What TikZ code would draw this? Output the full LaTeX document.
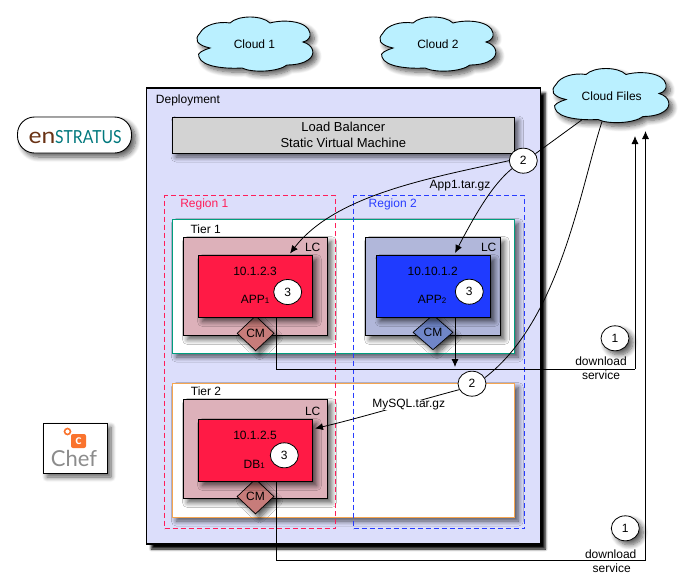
\documentclass[tikz,border=0pt]{standalone}
\usepackage{fontspec}
\setmainfont{Liberation Sans}
\newfontfamily\logofont{Lato}
\usetikzlibrary{arrows.meta,shapes.geometric,shapes.misc,shadows.blur}
\definecolor{depfill}{RGB}{220,222,251}
\definecolor{lbfill}{RGB}{211,211,211}
\definecolor{cloudfill}{RGB}{186,240,255}
\definecolor{redbox}{RGB}{255,26,69}
\definecolor{bluebox}{RGB}{31,59,255}
\definecolor{lcred}{RGB}{221,177,186}
\definecolor{lcblue}{RGB}{177,183,218}
\definecolor{cmred}{RGB}{199,124,122}
\definecolor{cmblue}{RGB}{112,134,200}
\definecolor{tiergreen}{RGB}{0,158,126}
\definecolor{tierorange}{RGB}{245,165,80}
\definecolor{regred}{RGB}{255,30,90}
\definecolor{regblue}{RGB}{40,60,255}
\definecolor{enbrown}{RGB}{105,50,20}
\definecolor{enteal}{RGB}{0,120,125}
\definecolor{cheforange}{RGB}{250,115,45}
\definecolor{chefgrey}{RGB}{140,140,140}
\tikzset{
  txt/.style={font=\fontsize{12}{14}\selectfont,inner sep=0pt,text=black},
  softshadow/.style={blur shadow={shadow xshift=4pt,shadow yshift=-4pt,shadow blur radius=5pt,shadow blur steps=8,shadow opacity=65}},
  hardshadow/.style={blur shadow={shadow xshift=5pt,shadow yshift=-5pt,shadow blur radius=2.5pt,shadow blur steps=6,shadow opacity=100}},
  boxn/.style={rectangle,draw=black,line width=1pt,inner sep=0pt,softshadow},
  tierbox/.style={rectangle,fill=white,line width=1pt,inner sep=0pt,softshadow},
  regionbox/.style={rectangle,dash pattern=on 5pt off 3pt,line width=.8pt,inner sep=0pt},
  numc/.style={ellipse,draw=black,fill=white,line width=.8pt,minimum width=28pt,minimum height=25pt,inner sep=0pt,font=\fontsize{12}{14}\selectfont},
  cmd/.style={diamond,draw=black,line width=.7pt,inner sep=0pt,aspect=1,minimum width=37pt,minimum height=35pt,softshadow,font=\fontsize{12}{14}\selectfont,text=black},
  conn/.style={draw=black,line width=.8pt},
  arrowconn/.style={conn,-{Latex[length=8pt,width=7pt]}},
  cloudshape/.pic={
    \path[draw=black,line width=.9pt,fill=cloudfill,softshadow]
      (-56,-12) .. controls (-52,-20) and (-38,-24) .. (-26,-22)
      .. controls (-18,-30) and (6,-30) .. (14,-22)
      .. controls (28,-26) and (52,-24) .. (54,-12)
      .. controls (55,-8) and (52,-4) .. (47,-3)
      .. controls (58,0) and (60,10) .. (52,15)
      .. controls (48,18) and (40,20) .. (31,20)
      .. controls (22,27) and (-4,28) .. (-14,23)
      .. controls (-30,24) and (-54,22) .. (-57,12)
      .. controls (-60,8) and (-52,5) .. (-46,3)
      .. controls (-60,0) and (-62,-6) .. (-56,-12) -- cycle;
  }
}
\newcommand{\smallidx}[1]{{\fontsize{8}{8}\selectfont #1}}
\begin{document}
\begin{tikzpicture}[x=1pt,y=-1pt]
\useasboundingbox (0,0) rectangle (698,584);
% clouds
\pic at (256,45) {cloudshape};
\pic at (439,45) {cloudshape};
\pic at (612,96.5) {cloudshape};
\node[txt] (cl1) at (254.5,44.5) {Cloud 1};
\node[txt] (cl2) at (438,44.5) {Cloud 2};
\node[txt] (clf) at (611.7,96) {Cloud Files};
% logos
\node[rectangle,rounded corners=17pt,draw=black,fill=white,line width=.9pt,minimum width=114pt,minimum height=36pt,inner sep=0pt,softshadow] (enlogo) at (74.5,135) {};
\node[inner sep=0pt,anchor=base east] (entxt1) at (55.5,143) {\logofont\fontsize{22}{22}\selectfont\textcolor{enbrown}{\scalebox{1.12}[1]{en}}};
\node[inner sep=0pt,anchor=base west] (entxt2) at (55,143) {\logofont\fontsize{18}{18}\selectfont\textcolor{enteal}{\scalebox{.87}[1]{STRATUS}}};
\node[chamfered rectangle,chamfered rectangle xsep=5pt,chamfered rectangle ysep=5pt,draw=black,fill=white,line width=.9pt,minimum width=64pt,minimum height=50pt,inner sep=0pt,softshadow] (cheflogo) at (75,448) {};
\node[rectangle,rounded corners=2pt,fill=cheforange,minimum width=15pt,minimum height=14pt,inner sep=0pt,text=white,font=\logofont\bfseries\fontsize{13}{13}\selectfont] (chefc) at (78.5,441) {c};
\node[circle,draw=cheforange,line width=1.6pt,fill=white,minimum size=6pt,inner sep=0pt] (chefring) at (67.5,431.5) {};
\node[inner sep=0pt,text=chefgrey,font=\logofont\fontsize{22}{22}\selectfont] (cheftxt) at (74,458.5) {Chef};
% deployment
\node[rectangle,draw=black,fill=depfill,line width=1.2pt,inner sep=0pt,minimum width=394pt,minimum height=456pt,hardshadow] (dep) at (343.3,316) {};
\node[txt] (deplbl) at (188,100) {Deployment};
\node[boxn,fill=lbfill,minimum width=342.5pt,minimum height=36pt,align=center,font=\fontsize{13}{16}\selectfont,text=black] (lb) at (343.3,135) {Load Balancer\\Static Virtual Machine};
% tiers
\node[tierbox,draw=tiergreen,minimum width=342pt,minimum height=133.5pt] (tier1) at (343.4,286.3) {};
\node[tierbox,draw=tierorange,minimum width=342pt,minimum height=133.5pt] (tier2) at (343.4,450.3) {};
\node[txt] (t1l) at (205.7,229.7) {Tier 1};
\node[txt] (t2l) at (206,391.7) {Tier 2};
% launch configurations
\node[boxn,fill=lcred,minimum width=144pt,minimum height=98pt] (lc1) at (255.5,286.5) {};
\node[boxn,fill=lcblue,minimum width=135pt,minimum height=98pt] (lc2) at (433,286.5) {};
\node[boxn,fill=lcred,minimum width=144pt,minimum height=99pt] (lc3) at (255.5,449) {};
\node[txt] (lc1l) at (312.7,247.7) {LC};
\node[txt] (lc2l) at (488.7,247.7) {LC};
\node[txt] (lc3l) at (312.7,411.7) {LC};
% CM
\node[cmd,fill=cmred] (cm1) at (255.6,333.3) {CM};
\node[cmd,fill=cmblue,minimum width=40pt] (cm2) at (433,332.3) {CM};
\node[cmd,fill=cmred] (cm3) at (255.5,496.5) {CM};
% servers
\node[boxn,fill=redbox,minimum width=114pt,minimum height=62pt] (app1) at (255.5,286.5) {};
\node[boxn,fill=bluebox,minimum width=114.5pt,minimum height=62pt] (app2) at (433.3,286.5) {};
\node[boxn,fill=redbox,minimum width=114pt,minimum height=62pt] (db1) at (255.5,450.5) {};
\node[txt] (a1ip) at (255,271.7) {10.1.2.3};
\node[txt] (a1n) at (255,299) {APP\smallidx{1}};
\node[txt] (a2ip) at (432.7,271.7) {10.10.1.2};
\node[txt] (a2n) at (432,299.5) {APP\smallidx{2}};
\node[txt] (d1ip) at (255,435.7) {10.1.2.5};
\node[txt] (d1n) at (254.3,464) {DB\smallidx{1}};
\node[numc] (n3a) at (287.7,292) {3};
\node[numc] (n3b) at (469.3,291.7) {3};
\node[numc] (n3c) at (284.3,455.3) {3};
% regions
\node[regionbox,draw=regred,minimum width=171pt,minimum height=333pt] (reg1) at (250,362) {};
\node[regionbox,draw=regblue,minimum width=171pt,minimum height=333pt] (reg2) at (439,362) {};
\node[txt,text=regred] (r1l) at (204.3,204.7) {Region 1};
\node[txt,text=regblue] (r2l) at (392.7,204.7) {Region 2};
% numbered circles
\node[numc] (n2a) at (523.3,160.7) {2};
\node[numc] (n2b) at (472,383.7) {2};
\node[numc,softshadow] (n1a) at (615,338.3) {1};
\node[numc,softshadow] (n1b) at (625.3,528.3) {1};
% end points
\coordinate (cfa) at (581.7,120);
\coordinate (cfb) at (602,121.5);
\coordinate (app1in) at (290,253.5);
\coordinate (app2in) at (455,253);
\coordinate (dbin) at (315,428.5);
\coordinate (a1out) at (276.7,317.5);
\coordinate (d1out) at (276.7,481.5);
\coordinate (a2out) at (455,317.5);
\coordinate (a2end) at (455,367);
\coordinate (c1) at (276.7,369);
\coordinate (c2) at (635,369);
\coordinate (c3) at (635,136);
\coordinate (d1) at (276.7,560.5);
\coordinate (d2) at (645.5,560.5);
\coordinate (d3) at (645.5,131);
% connectors
\draw[conn] (cfa) -- (n2a.30);
\draw[arrowconn] (n2a.west) .. controls (430,178) and (335,195) .. (app1in);
\draw[arrowconn] (n2a.215) .. controls (492,185) and (475,215) .. (app2in);
\draw[conn] (cfb) .. controls (580,190) and (560,320) .. (n2b.25);
\draw[conn] (a1out) -- (c1) -- (c2);
\draw[arrowconn] (c2) -- (c3);
\draw[conn] (d1out) -- (d1) -- (d2);
\draw[arrowconn] (d2) -- (d3);
\draw[arrowconn] (a2out) -- (a2end);
\draw[arrowconn] (n2b.205) .. controls (420,400) and (360,418) .. (dbin);
\node[txt] (applbl) at (460,186) {App1.tar.gz};
\node[txt,fill=white,inner xsep=1pt] (mylbl) at (408.7,405) {MySQL.tar.gz};
\node[txt] (dl1) at (601,361) {download};
\node[txt] (sv1) at (601,375.5) {service};
\node[txt] (dl2) at (610.7,554) {download};
\node[txt] (sv2) at (611.7,568) {service};
\end{tikzpicture}
\end{document}
